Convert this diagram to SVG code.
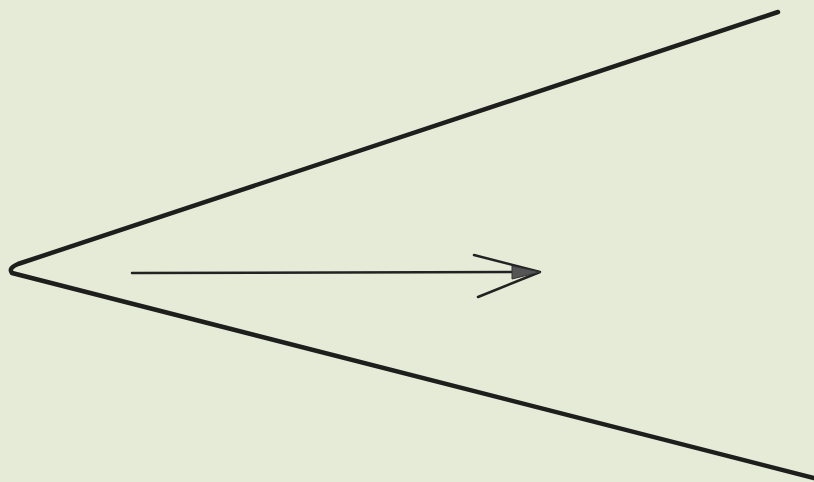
<svg xmlns="http://www.w3.org/2000/svg" width="814" height="482" viewBox="0 0 814 482">
<style>
.ln{fill:none;stroke:#1e1e1c;stroke-width:4.5;stroke-linecap:round;stroke-linejoin:round}
.ar{fill:none;stroke:#222;stroke-width:2.5;stroke-linecap:round;stroke-linejoin:round}
</style>
<rect width="814" height="482" fill="#e6ebd7"/>
<g id="angle">
<path class="ln" d="M778,12 L18,264 Q8,268 12,273 L814,478"/>
</g>
<g id="connectors">
<path class="ar" d="M132,273 L538,272"/>
<path class="ar" d="M474,255 L540,272 L478,297"/>
<path d="M512,266 L540,272 L512,279 Z" fill="#555" stroke="#333" stroke-width="1"/>
</g>
</svg>
